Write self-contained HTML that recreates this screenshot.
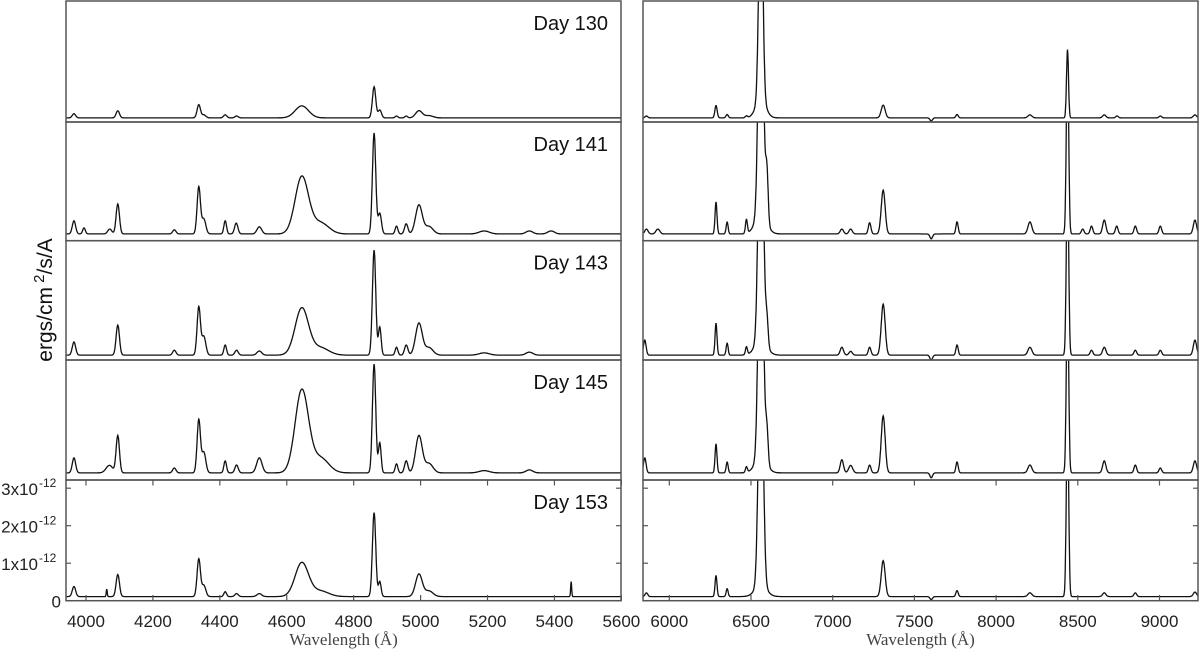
<!DOCTYPE html>
<html><head><meta charset="utf-8"><style>
body{margin:0;background:#fff}
svg{display:block}
text{font-family:"Liberation Sans",sans-serif}
</style></head><body>
<svg id="chart" width="1200" height="653" viewBox="0 0 1200 653" xmlns="http://www.w3.org/2000/svg"></svg>
<script>
// Panel labels
const days = ["Day 130","Day 141","Day 143","Day 145","Day 153"];
// Continuum level per day (1e-12 ergs/cm2/s/A)
const contLevels = [0.11,0.18,0.13,0.19,0.11];
// Emission lines: [centre wavelength (A), amplitude (1e-12), sigma (A)]
const blueLines130 = [[3964,.11,5],[4095,.19,5],[4337,.35,5],[4352,.08,6],[4416,.08,5],[4450,.05,5],[4645,.32,20],[4861,.83,5],[4878,.21,5],[4928,.05,4],[4957,.05,4],[4995,.19,10],[5025,.06,12]];
const blueLines141 = [[3964,.35,5],[3994,.16,4],[4071,.13,6],[4095,.8,5],[4264,.11,5],[4337,1.25,5],[4352,.4,6],[4416,.35,4],[4449,.29,5],[4518,.19,7],[4645,1.52,20],[4700,.3,25],[4861,2.69,5],[4878,.55,5],[4928,.21,4],[4957,.27,5],[4995,.77,10],[5025,.2,12],[5190,.08,15],[5325,.08,10],[5390,.08,10]];
const blueLines143 = [[3964,.35,5],[4095,.8,5],[4264,.13,5],[4337,1.28,5],[4352,.5,6],[4416,.27,4],[4450,.13,5],[4518,.11,7],[4645,1.25,20],[4700,.2,25],[4861,2.8,5],[4878,.75,4],[4928,.21,4],[4957,.27,5],[4995,.85,10],[5025,.2,12],[5190,.06,15],[5325,.08,10]];
const blueLines145 = [[3964,.4,5],[4070,.2,10],[4095,.99,5],[4264,.13,5],[4337,1.41,5],[4352,.55,6],[4416,.32,4],[4450,.21,5],[4518,.4,8],[4645,2.2,20],[4700,.4,25],[4861,2.9,5],[4878,.8,4],[4928,.24,4],[4957,.32,5],[4995,.99,10],[5025,.25,12],[5190,.06,15],[5325,.08,10]];
const blueLines153 = [[3964,.27,5],[4062,.2,1.5],[4095,.59,5],[4337,1.0,5],[4352,.3,6],[4416,.13,4],[4450,.08,5],[4518,.08,7],[4645,.9,20],[4700,.15,25],[4861,2.24,5],[4878,.4,4],[4995,.6,10],[5025,.15,12],[5450,.4,1.5]];
const redLines130 = [[5860,.05,8],[6286,.33,7],[6354,.09,7],[6472,.05,7],[6560,6,12],[6560,.5,30],[7309,.34,12],[7603,-.08,8],[7761,.09,7],[8207,.08,12],[8437,1.82,6],[8662,.08,10],[8740,.05,8],[9005,.05,8],[9217,.08,10]];
const redLines141 = [[5860,.13,10],[5930,.13,12],[6286,.85,6],[6354,.32,6],[6472,.37,6],[6560,8,14],[6597,1.4,8],[6560,.5,35],[7056,.13,10],[7110,.13,10],[7226,.3,8],[7309,1.17,12],[7603,-.13,8],[7761,.32,7],[8207,.32,12],[8437,5,7],[8530,.13,8],[8584,.21,8],[8662,.37,10],[8738,.21,8],[8852,.21,8],[9005,.21,8],[9217,.37,10]];
const redLines143 = [[5850,.4,8],[6286,.85,6],[6354,.32,6],[6472,.21,6],[6560,8,14],[6597,.75,8],[6560,.4,35],[7056,.21,10],[7110,.1,10],[7226,.21,8],[7309,1.36,12],[7603,-.13,8],[7761,.27,7],[8207,.21,12],[8437,5,7],[8584,.13,8],[8662,.21,10],[8852,.13,8],[9005,.13,8],[9217,.4,10]];
const redLines145 = [[5850,.4,8],[6286,.77,6],[6354,.29,6],[6472,.15,6],[6560,8,14],[6597,.93,8],[6560,.4,35],[7056,.35,10],[7110,.2,12],[7226,.21,8],[7309,1.52,12],[7603,-.13,8],[7761,.29,7],[8207,.21,12],[8437,5,7],[8662,.32,10],[8852,.21,8],[9005,.13,8],[9217,.32,10]];
const redLines153 = [[5860,.1,8],[6286,.56,6],[6354,.21,6],[6560,7,14],[6560,.3,35],[7309,.96,12],[7603,-.08,8],[7761,.16,7],[8207,.1,12],[8437,5,7],[8662,.1,10],[8852,.1,8],[9217,.12,10]];
const blueTicks = [4000,4200,4400,4600,4800,5000,5200,5400,5600];
const redTicks = [6000,6500,7000,7500,8000,8500,9000];
const yTicks = [0,1,2,3];
const yTickLabels = ["0","1x10","2x10","3x10"];

const blueSets=[blueLines130,blueLines141,blueLines143,blueLines145,blueLines153];
const redSets=[redLines130,redLines141,redLines143,redLines145,redLines153];
const NS="http://www.w3.org/2000/svg";
const svg=document.getElementById('chart');
function mk(tag,attrs,parent){const e=document.createElementNS(NS,tag);for(const k in attrs)e.setAttribute(k,attrs[k]);(parent||svg).appendChild(e);return e;}
const rowTop=[1,122,240.7,360,480];
const rowBot=[122,240.7,360,480,600.7];
const PXPER=37.5;
const xBlue=w=>86+(w-4000)*0.3346;
const xRed=w=>669.3+(w-6000)*0.1634;
const panels=[{x0:66,x1:621,sx:xBlue,w0:3940,w1:5600,step:1,sets:blueSets,ticks:blueTicks,name:'blue'},
              {x0:643,x1:1198,sx:xRed,w0:5839,w1:9235,step:2,sets:redSets,ticks:redTicks,name:'red'}];
function flux(lines,c,w){let f=c;for(const l of lines){const d=(w-l[0])/l[2];if(Math.abs(d)<8)f+=l[1]*Math.exp(-0.5*d*d);}return f;}
const defs=mk('defs',{});
panels.forEach((p,pi)=>{
  for(let r=0;r<5;r++){
    const yb=rowBot[r], yt=rowTop[r];
    const cp=mk('clipPath',{id:'c'+pi+r},defs);
    mk('rect',{x:p.x0,y:yt,width:p.x1-p.x0,height:yb-yt},cp);
    const sy=f=>yb-f*PXPER;
    let d='';
    for(let w=p.w0;w<=p.w1;w+=p.step){
      const X=p.sx(w),Y=sy(flux(p.sets[r],contLevels[r],w));
      d+=(d?'L':'M')+X.toFixed(1)+' '+Y.toFixed(1);
    }
    const path=mk('path',{d:d,fill:'none',stroke:'#111','stroke-width':1.3,'clip-path':'url(#c'+pi+r+')'});
    
    
    const fr=mk('rect',{x:p.x0,y:yt,width:p.x1-p.x0,height:yb-yt,fill:'none',stroke:'#555','stroke-width':1.5});
    
    
    if(pi===0){
      const t=mk('text',{x:608,y:rowTop[r]+29,'text-anchor':'end','font-size':20,fill:'#111'});
      t.textContent=days[r];
      
      
    }
  }
  // x ticks on bottom row
  p.ticks.forEach(v=>{
    const X=p.sx(v);
    mk('line',{x1:X,x2:X,y1:600.7,y2:595,stroke:'#555','stroke-width':1.2});
    mk('line',{x1:X,x2:X,y1:480,y2:485.5,stroke:'#555','stroke-width':1.2});
    const t=mk('text',{x:X,y:627,'text-anchor':'middle','font-size':17,fill:'#222'});
    t.textContent=v;
    
    
  });
  yTicks.forEach(v=>{
    const Y=600.7-v*PXPER;
    mk('line',{x1:p.x0,x2:p.x0+5,y1:Y,y2:Y,stroke:'#555','stroke-width':1.2});
    mk('line',{x1:p.x1,x2:p.x1-5,y1:Y,y2:Y,stroke:'#555','stroke-width':1.2});
  });
  const xl=mk('text',{x:(p.x0+p.x1)/2,y:645,'text-anchor':'middle','font-size':17,fill:'#444',style:'font-family:"Liberation Serif",serif'});
  xl.textContent='Wavelength (Å)';
  
  
});
yTicks.forEach((v,i)=>{
  const Y=600.7-v*PXPER;
  const t=mk('text',{x:v===0?61:38,y:Y+7,'text-anchor':'end','font-size':17,fill:'#222'});
  t.textContent=yTickLabels[i];
  
  
  if(v!==0){
    const s=mk('text',{x:39,y:Y-1,'font-size':12,fill:'#222'});
    s.textContent='-12';
    
    
  }
});
const yt=mk('text',{x:0,y:0,'text-anchor':'middle','font-size':21,fill:'#111',transform:'translate(52,300) rotate(-90)'});
yt.innerHTML='ergs/cm<tspan dy="-8" font-size="15"> 2</tspan><tspan dy="8">/s/A</tspan>';


</script>
</body></html>
